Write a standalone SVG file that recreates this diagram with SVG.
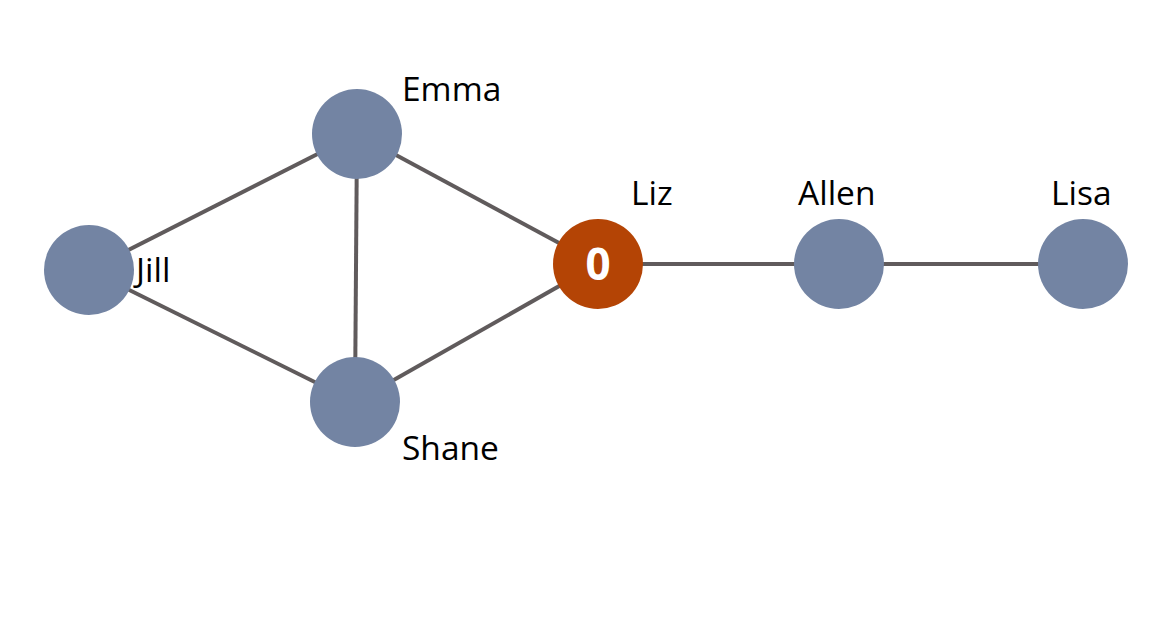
<svg xmlns="http://www.w3.org/2000/svg" width="1170" height="644" viewBox="0 0 1170 644">
<style>
.edge{stroke:#605b5c;stroke-width:4;fill:none}
.node{fill:#7384a3}
.hub{fill:#b44405}
.lbl{font-family:"Open Sans","Noto Sans","DejaVu Sans",sans-serif;font-size:33.5px;fill:#000}
.num{font-family:"Open Sans","Noto Sans","DejaVu Sans",sans-serif;font-size:44px;font-weight:bold;fill:#fff;text-anchor:middle}
</style>
<rect width="1170" height="644" fill="#fff"/>
<g id="connectors">
<line class="edge" x1="89" y1="270" x2="357" y2="134"/>
<line class="edge" x1="89" y1="270" x2="355" y2="402"/>
<line class="edge" x1="357" y1="134" x2="355" y2="402"/>
<line class="edge" x1="357" y1="134" x2="598" y2="264"/>
<line class="edge" x1="355" y1="402" x2="598" y2="264"/>
<line class="edge" x1="598" y1="264" x2="839" y2="264"/>
<line class="edge" x1="839" y1="264" x2="1083" y2="264"/>
</g>
<g id="Emma"><circle class="node" cx="357" cy="134" r="45"/><text class="lbl" x="402" y="101">Emma</text></g>
<g id="Jill"><circle class="node" cx="89" cy="270" r="45"/><text class="lbl" x="136" y="282">Jill</text></g>
<g id="Shane"><circle class="node" cx="355" cy="402" r="45"/><text class="lbl" x="402" y="460">Shane</text></g>
<g id="Liz"><circle class="hub" cx="598" cy="264" r="45"/><text class="num" x="598" y="280">0</text><text class="lbl" x="631" y="205">Liz</text></g>
<g id="Allen"><circle class="node" cx="839" cy="264" r="45"/><text class="lbl" x="798" y="205">Allen</text></g>
<g id="Lisa"><circle class="node" cx="1083" cy="264" r="45"/><text class="lbl" x="1051" y="205">Lisa</text></g>
</svg>
